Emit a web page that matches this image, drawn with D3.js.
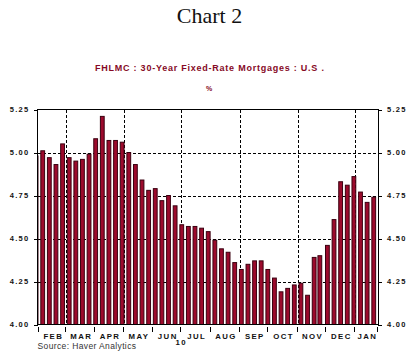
<!DOCTYPE html>
<html><head><meta charset="utf-8">
<script src="https://cdn.jsdelivr.net/npm/d3@7"></script>
<style>
html,body{margin:0;padding:0;background:#fff;}
svg{display:block;}
</style></head>
<body>
<svg id="c" width="417" height="357"></svg>
<script>
const weeks = ["2010-01-28","2010-02-04","2010-02-11","2010-02-18","2010-02-25","2010-03-04","2010-03-11","2010-03-18","2010-03-25",
"2010-04-01","2010-04-08","2010-04-15","2010-04-22","2010-04-29","2010-05-06","2010-05-13","2010-05-20","2010-05-27",
"2010-06-03","2010-06-10","2010-06-17","2010-06-24","2010-07-01","2010-07-08","2010-07-15","2010-07-22","2010-07-29",
"2010-08-05","2010-08-12","2010-08-19","2010-08-26","2010-09-02","2010-09-09","2010-09-16","2010-09-23","2010-09-30",
"2010-10-07","2010-10-14","2010-10-21","2010-10-28","2010-11-04","2010-11-11","2010-11-18","2010-11-24",
"2010-12-02","2010-12-09","2010-12-16","2010-12-23","2010-12-30","2011-01-06","2011-01-13","2011-01-20"];
const rates = [4.98,5.01,4.97,4.93,5.05,4.97,4.95,4.96,4.99,
5.08,5.21,5.07,5.07,5.06,5.00,4.93,4.84,4.78,
4.79,4.72,4.75,4.69,4.58,4.57,4.57,4.56,4.54,
4.49,4.44,4.42,4.36,4.32,4.35,4.37,4.37,4.32,
4.27,4.19,4.21,4.23,4.24,4.17,4.39,4.40,
4.46,4.61,4.83,4.81,4.86,4.77,4.71,4.74];
const monthLabels = ["FEB","MAR","APR","MAY","JUN","JUL","AUG","SEP","OCT","NOV","DEC","JAN"];
const yearLabels = ["10"];
const yTicks = [4.00,4.25,4.50,4.75,5.00,5.25];
const title = "Chart 2";
const subtitle = "FHLMC: 30-Year Fixed-Rate Mortgages: U.S.";
const unit = "%";
const source = "Source: Haver Analytics";

const svg = d3.select("#c");
const L = 37.5, R = 378, T = 109.5, B = 324.5;
const parse = d3.utcParse("%Y-%m-%d");
const d0 = new Date(Date.UTC(2010,0,30)), d1 = new Date(Date.UTC(2011,0,25));
const x = d3.scaleUtc().domain([d0, d1]).range([L, R]);
const y = d3.scaleLinear().domain([4, 5.25]).range([B, T]);
const barColor = "#9c0a2c", barEdge = "#3a0010", maroon = "#860a26";

svg.append("defs").append("clipPath").attr("id","pc")
  .append("rect").attr("x",L).attr("y",T-20).attr("width",R-L).attr("height",B-T+20);

// titles
svg.append("text").attr("x",209.5).attr("y",23).attr("text-anchor","middle")
  .attr("font-family","Liberation Serif, Times New Roman, serif").attr("font-size",22).attr("fill","#111").text(title);
svg.append("text").attr("x",210).attr("y",70.5).attr("text-anchor","middle")
  .attr("font-family","Liberation Sans, Arial, sans-serif").attr("font-weight","bold").attr("font-size",9)
  .attr("letter-spacing",1.1).attr("textLength",230).attr("lengthAdjust","spacing")
  .attr("fill",maroon).text(subtitle.replace(/:/g," : ").replace("U.S.","U.S ."));
svg.append("text").attr("x",209).attr("y",91).attr("text-anchor","middle")
  .attr("font-family","Liberation Sans, Arial, sans-serif").attr("font-weight","bold").attr("font-size",7)
  .attr("fill",maroon).text(unit);

// grid
const grid = svg.append("g").attr("stroke","#000").attr("stroke-width",1).attr("stroke-dasharray","3,2").attr("shape-rendering","crispEdges");
grid.selectAll("line.h").data(yTicks.filter(v => v > 4 && v < 5.25)).join("line")
  .attr("x1",L).attr("x2",R).attr("y1",d => Math.round(y(d))+0.5).attr("y2",d => Math.round(y(d))+0.5);
const gridMonths = d3.utcMonth.every(2).range(d0, d1);
grid.selectAll("line.v").data(gridMonths).join("line")
  .attr("y1",T).attr("y2",B).attr("x1",d => Math.round(x(d))+0.5).attr("x2",d => Math.round(x(d))+0.5);

// bars
const data = weeks.map((w,i) => ({d: parse(w), v: rates[i]}));
const bw = 3.8;
svg.append("g").attr("clip-path","url(#pc)").selectAll("rect").data(data).join("rect")
  .attr("x", d => x(d3.utcHour.offset(d.d, 12)) - bw/2)
  .attr("width", bw)
  .attr("y", d => y(d.v))
  .attr("height", d => B - y(d.v))
  .attr("fill", barColor).attr("stroke", barEdge).attr("stroke-width", 1);

// frame
svg.append("rect").attr("x",L).attr("y",T).attr("width",R-L).attr("height",B-T)
  .attr("fill","none").attr("stroke","#000").attr("stroke-width",1).attr("shape-rendering","crispEdges");

// y axes
const fmt = d3.format(".2f");
function styleAxis(g){
  g.select(".domain").remove();
  g.selectAll(".tick line").attr("stroke","#000").attr("shape-rendering","crispEdges");
  g.selectAll(".tick text").attr("font-family","Liberation Sans, Arial, sans-serif").attr("font-weight","bold")
    .attr("font-size",7.5).attr("letter-spacing",1.3).attr("fill","#111");
}
svg.append("g").attr("transform",`translate(${L},0)`)
  .call(d3.axisLeft(y).tickValues(yTicks).tickFormat(fmt).tickSize(4).tickPadding(4)).call(styleAxis);
svg.append("g").attr("transform",`translate(${R},0)`)
  .call(d3.axisRight(y).tickValues(yTicks).tickFormat(fmt).tickSize(4).tickPadding(5)).call(styleAxis);

// x axis: month ticks and labels
const monthStarts = d3.utcMonth.range(d0, d1);   // Feb 1 2010 ... Jan 1 2011
const bounds = [...monthStarts, d1];
svg.append("g").selectAll("line").data(bounds).join("line")
  .attr("x1",d => Math.round(x(d))-0.5).attr("x2",d => Math.round(x(d))-0.5).attr("y1",327).attr("y2",332)
  .attr("stroke","#000").attr("shape-rendering","crispEdges");
const lab = svg.append("g").attr("font-family","Liberation Sans, Arial, sans-serif").attr("font-weight","bold")
  .attr("font-size",7.8).attr("letter-spacing",1.4).attr("fill","#111").attr("text-anchor","middle");
lab.selectAll("text").data(monthLabels).join("text")
  .attr("x",(d,i) => (x(bounds[i]) + x(bounds[i+1]))/2 + 0.7)
  .attr("y",338.5).text(d => d);
lab.append("text").attr("x", x(new Date(Date.UTC(2010,6,1)))).attr("y",344.5).text(yearLabels[0]);

svg.append("text").attr("x",37.5).attr("y",348.5)
  .attr("font-family","Liberation Sans, Arial, sans-serif").attr("font-size",8.5).attr("letter-spacing",0.5)
  .attr("textLength",99).attr("lengthAdjust","spacing")
  .attr("fill","#333").text(source);
</script>
</body></html>
